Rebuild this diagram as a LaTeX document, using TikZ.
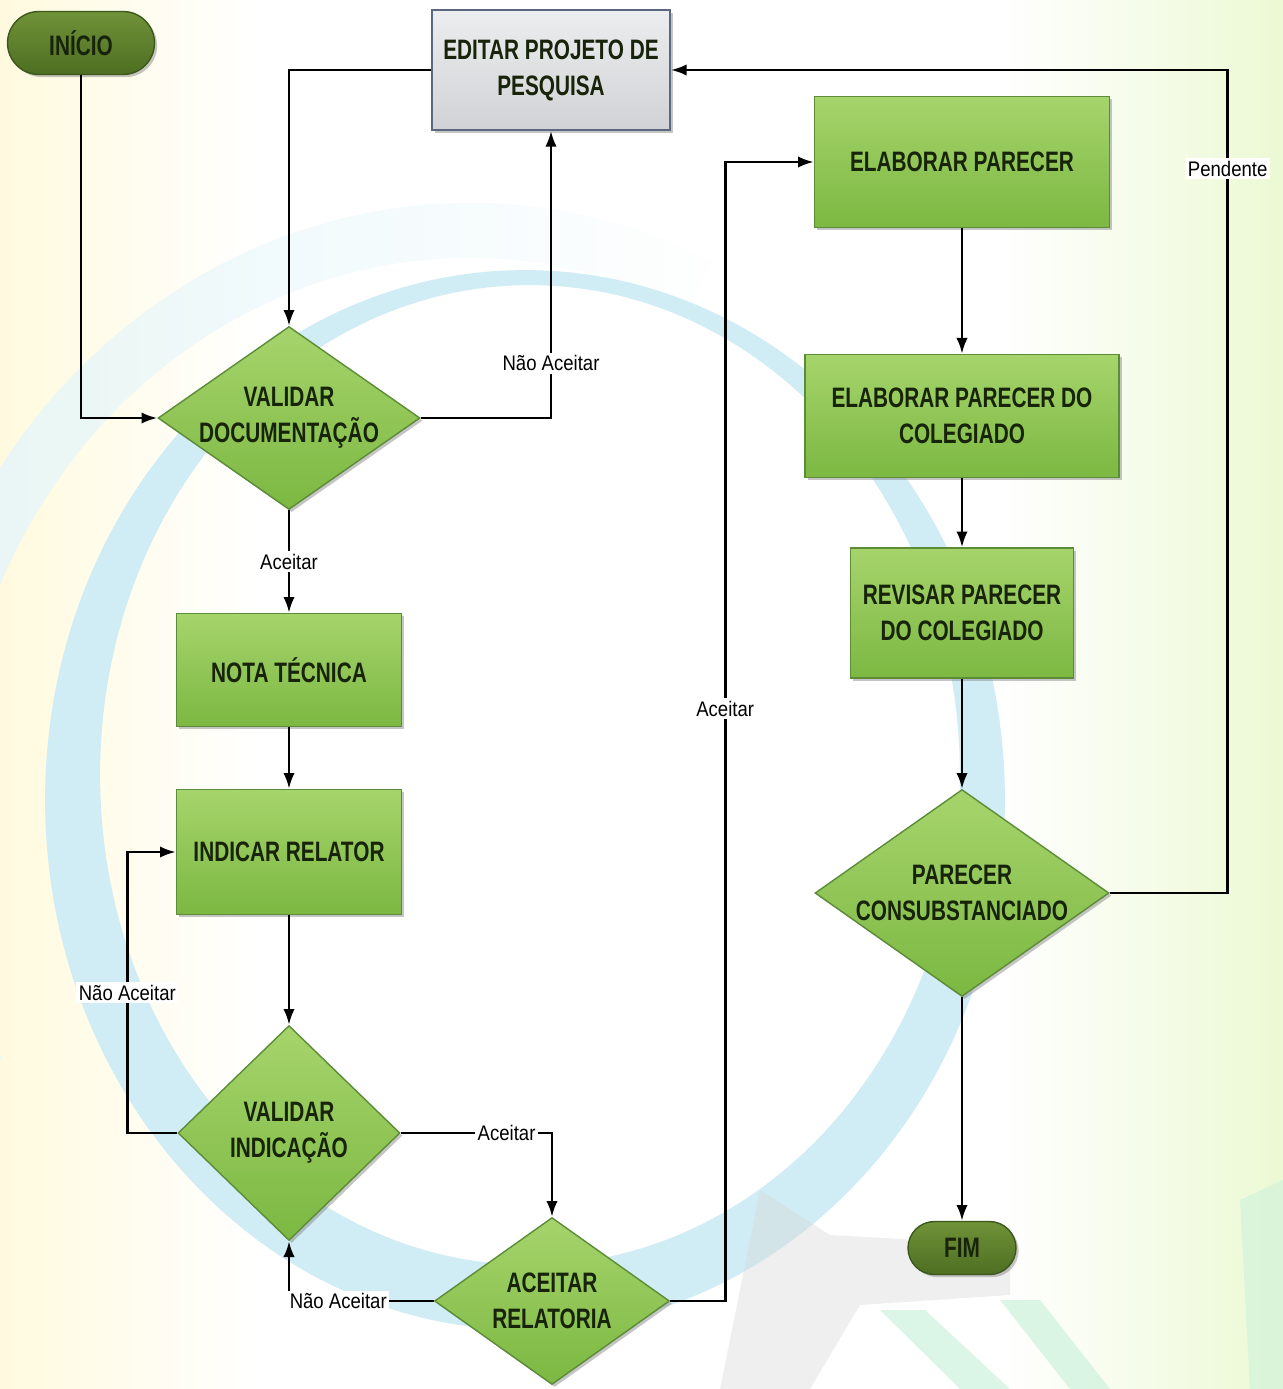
\documentclass[tikz,border=0pt]{standalone}
\usepackage{fontspec}
\setmainfont{Liberation Sans}
\newfontfamily\nodefont[FakeStretch=0.74]{Liberation Sans}
\newfontfamily\lblfont[FakeStretch=0.88]{Liberation Sans}
\usetikzlibrary{shapes.geometric,shapes.misc,arrows.meta,shadows,calc,fadings}
\definecolor{gtop}{RGB}{166,212,108}
\definecolor{gbot}{RGB}{124,184,66}
\definecolor{gborder}{RGB}{92,140,56}
\definecolor{txt}{RGB}{24,36,10}
\definecolor{ttop}{RGB}{112,146,56}
\definecolor{tbot}{RGB}{78,110,34}
\definecolor{tborder}{RGB}{60,88,28}
\definecolor{etop}{RGB}{236,237,238}
\definecolor{ebot}{RGB}{208,210,213}
\definecolor{eborder}{RGB}{90,104,128}
\definecolor{ringc}{RGB}{208,236,244}
\definecolor{ringo}{RGB}{228,246,251}
\definecolor{paley}{RGB}{255,250,222}
\definecolor{paleg}{RGB}{236,249,212}
\definecolor{streak}{RGB}{205,242,220}
\tikzset{
  txtfont/.style={font=\nodefont\bfseries\fontsize{16}{20.5}\selectfont, text=txt, align=center},
  shad/.style={drop shadow={shadow xshift=1.5pt, shadow yshift=-1.5pt, opacity=0.45}},
  proc/.style={txtfont, shad, rectangle, inner sep=0pt, draw=gborder, line width=0.8pt, top color=gtop, bottom color=gbot},
  editbox/.style={txtfont, shad, rectangle, inner sep=0pt, draw=eborder, line width=1pt, top color=etop, bottom color=ebot},
  term/.style={txtfont, shad, rounded rectangle, inner sep=0pt, draw=tborder, line width=0.8pt, top color=ttop, bottom color=tbot},
  decision/.style={shad, diamond, inner sep=0pt, draw=gborder, line width=0.8pt, top color=gtop, bottom color=gbot},
  dtext/.style={txtfont, inner sep=0pt},
  flow/.style={draw=black, line width=1.5pt, -{Latex[length=9pt,width=6.5pt]}},
  lbl/.style={font=\lblfont\fontsize{12}{14}\selectfont, fill=white, inner sep=1.5pt, text=black},
}
\begin{document}
\begin{tikzpicture}[x=0.02cm, y=-0.02cm]
\useasboundingbox (0,0) rectangle (1283,1389);
% background decoration
\fill[white] (0,0) rectangle (1283,1389);
\shade[left color=paley, right color=white] (0,0) rectangle (260,1389);
\shade[left color=white, right color=paleg] (1000,0) rectangle (1283,1389);
\draw[ringo, line width=1.1cm, path fading=east] ($(470,820)+(205:10.9cm and 11.8cm)$)
     arc[start angle=205, end angle=65, x radius=10.9cm, y radius=11.8cm];
\fill[ringc, even odd rule] (525,800) ellipse [x radius=9.6cm, y radius=10.6cm]
                            (530,775) ellipse [x radius=8.6cm, y radius=9.8cm];
\fill[gray!30, opacity=0.4] (760,1190) -- (830,1235) -- (1010,1245) -- (1010,1295) -- (860,1305) -- (810,1389) -- (720,1389) -- (745,1265) -- cycle;
\fill[streak, opacity=0.7] (880,1310) -- (925,1310) -- (1010,1389) -- (960,1389) -- cycle;
\fill[streak, opacity=0.7] (1000,1300) -- (1040,1300) -- (1110,1389) -- (1070,1389) -- cycle;
\fill[streak, opacity=0.6] (1240,1200) -- (1283,1180) -- (1283,1389) -- (1250,1389) -- cycle;

% nodes
\node[term, minimum width=2.94cm, minimum height=1.26cm] (ini) at (81,43) {INÍCIO};
\node[editbox, minimum width=4.76cm, minimum height=2.4cm] (ed) at (551,70) {EDITAR PROJETO DE\\PESQUISA};
\node[decision, minimum width=5.24cm, minimum height=3.66cm, label={[dtext]center:{VALIDAR\\DOCUMENTAÇÃO}}] (vd) at (289,418) {};
\node[proc, minimum width=4.5cm, minimum height=2.26cm] (nt) at (289,670) {NOTA TÉCNICA};
\node[proc, minimum width=4.5cm, minimum height=2.5cm] (ir) at (289,852) {INDICAR RELATOR};
\node[decision, minimum width=4.44cm, minimum height=4.3cm, label={[dtext]center:{VALIDAR\\INDICAÇÃO}}] (vi) at (289,1133) {};
\node[decision, minimum width=4.7cm, minimum height=3.34cm, label={[dtext]center:{ACEITAR\\RELATORIA}}] (ar) at (552,1301) {};
\node[proc, minimum width=5.9cm, minimum height=2.62cm] (ep) at (962,162) {ELABORAR PARECER};
\node[proc, minimum width=6.28cm, minimum height=2.46cm] (epc) at (962,416) {ELABORAR PARECER DO\\COLEGIADO};
\node[proc, minimum width=4.46cm, minimum height=2.6cm] (rpc) at (962,613) {REVISAR PARECER\\DO COLEGIADO};
\node[decision, minimum width=5.88cm, minimum height=4.14cm, label={[dtext]center:{PARECER\\CONSUBSTANCIADO}}] (pc) at (962,893) {};
\node[term, minimum width=2.16cm, minimum height=1.06cm] (fim) at (962,1248) {FIM};

% helper coordinates
\coordinate (c1) at ($(vi.west)+(-50,0)$);
\coordinate (c2) at ($(ar.east)+(55,0)$);
\coordinate (c3) at ($(pc.east)+(118,0)$);

% connectors
\draw[flow] (ini.south) |- (vd.west);
\draw[flow] (ed.west) -| (vd.north);
\draw[flow] (vd.east) -| (ed.south) node[lbl, pos=0.595] {Não Aceitar};
\draw[flow] (vd.south) -- (nt.north) node[lbl, midway] {Aceitar};
\draw[flow] (nt.south) -- (ir.north);
\draw[flow] (ir.south) -- (vi.north);
\draw[flow] (vi.west) -- (c1) |- (ir.west) node[lbl, pos=0.25] {Não Aceitar};
\draw[flow] (vi.east) -| (ar.north) node[lbl, pos=0.35] {Aceitar};
\draw[flow] (ar.west) -| (vi.south) node[lbl, pos=0.33] {Não Aceitar};
\draw[flow] (ar.east) -- (c2) |- (ep.west) node[lbl, pos=0.26] {Aceitar};
\draw[flow] (ep.south) -- (epc.north);
\draw[flow] (epc.south) -- (rpc.north);
\draw[flow] (rpc.south) -- (pc.north);
\draw[flow] (pc.south) -- (fim.north);
\draw[flow] (pc.east) -- (c3) |- (ed.east) node[lbl, pos=0.44] {Pendente};
\end{tikzpicture}
\end{document}
